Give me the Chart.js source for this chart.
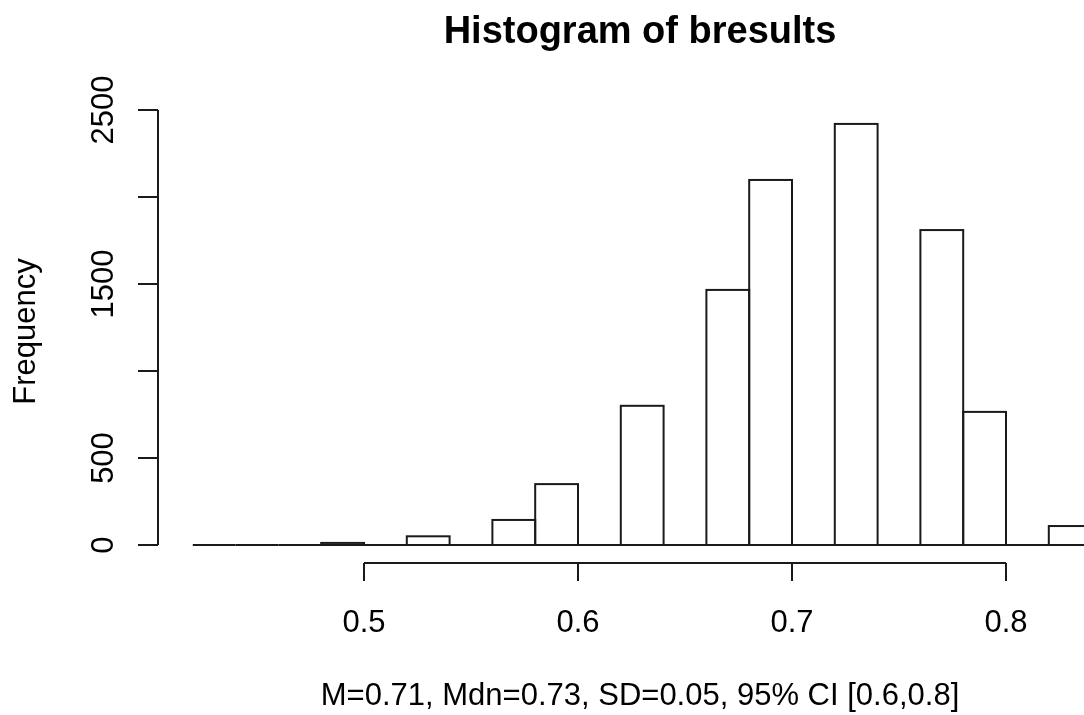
<!DOCTYPE html>
<html>
<head>
<meta charset="utf-8">
<script src="https://cdn.jsdelivr.net/npm/chart.js@4.4.0/dist/chart.umd.min.js"></script>
<style>
    html, body { margin: 0; padding: 0; background: #fff; }
    #wrap { width: 1084px; height: 715px; position: relative; }
</style>
</head>
<body>
<div id="wrap"><canvas id="myChart"></canvas></div>
<script>
// bins of width 0.02 (left edges) and their counts
var binStarts = [0.42, 0.44, 0.46, 0.48, 0.50, 0.52, 0.54, 0.56, 0.58, 0.60, 0.62, 0.64, 0.66, 0.68, 0.70, 0.72, 0.74, 0.76, 0.78, 0.80, 0.82, 0.84];
var counts    = [0,    0,    0,    12,   0,    50,   0,    144,  350,  0,    800,  0,    1466, 2098, 0,    2420, 0,    1810, 765,  0,    109,  0];
var binWidth = 0.02;

var xTicks = [0.5, 0.6, 0.7, 0.8];
var xTickLabels = ['0.5', '0.6', '0.7', '0.8'];
var yTicks = [0, 500, 1000, 1500, 2000, 2500];
var yTickLabels = ['0', '500', '', '1500', '', '2500'];

var titulo = 'Histogram of bresults';
var subtitulo = 'M=0.71, Mdn=0.73, SD=0.05, 95% CI [0.6,0.8]';
var yTitulo = 'Frequency';

var FONT = '"Liberation Sans", Arial, sans-serif';
var LINE = '#1a1a1a';

var datos = binStarts.map(function (b, i) {
    return { x: b + binWidth / 2, y: counts[i] };
});

// contorno de las barras, como en R (incluye barras en cero)
var contornoBarras = {
    id: 'contornoBarras',
    afterDatasetsDraw: function (chart) {
        var ctx = chart.ctx;
        var meta = chart.getDatasetMeta(0);
        ctx.save();
        ctx.strokeStyle = LINE;
        ctx.lineWidth = 2;
        meta.data.forEach(function (el) {
            var p = el.getProps(['x', 'y', 'base', 'width'], true);
            ctx.strokeRect(p.x - p.width / 2, p.y, p.width, p.base - p.y);
        });
        ctx.restore();
    }
};

// ejes y textos estilo R
var ejes = {
    id: 'ejes',
    afterDraw: function (chart) {
        var ctx = chart.ctx;
        var area = chart.chartArea;
        var sx = chart.scales.x;
        var sy = chart.scales.y;
        ctx.save();
        ctx.strokeStyle = LINE;
        ctx.fillStyle = '#000';
        ctx.lineWidth = 2;

        // eje x
        var yb = area.bottom;
        ctx.beginPath();
        ctx.moveTo(sx.getPixelForValue(xTicks[0]), yb);
        ctx.lineTo(sx.getPixelForValue(xTicks[xTicks.length - 1]), yb);
        xTicks.forEach(function (t) {
            var px = sx.getPixelForValue(t);
            ctx.moveTo(px, yb);
            ctx.lineTo(px, yb + 18);
        });
        ctx.stroke();
        ctx.font = '31px ' + FONT;
        ctx.textAlign = 'center';
        ctx.textBaseline = 'alphabetic';
        xTicks.forEach(function (t, i) {
            ctx.fillText(xTickLabels[i], sx.getPixelForValue(t), 632);
        });

        // eje y
        var xl = area.left;
        ctx.beginPath();
        ctx.moveTo(xl, sy.getPixelForValue(yTicks[0]));
        ctx.lineTo(xl, sy.getPixelForValue(yTicks[yTicks.length - 1]));
        yTicks.forEach(function (t) {
            var py = sy.getPixelForValue(t);
            ctx.moveTo(xl, py);
            ctx.lineTo(xl - 20, py);
        });
        ctx.stroke();
        yTicks.forEach(function (t, i) {
            if (!yTickLabels[i]) return;
            ctx.save();
            ctx.translate(113, sy.getPixelForValue(t));
            ctx.rotate(-Math.PI / 2);
            ctx.fillText(yTickLabels[i], 0, 0);
            ctx.restore();
        });

        // titulo eje y
        ctx.save();
        ctx.translate(35, (area.top + area.bottom) / 2);
        ctx.rotate(-Math.PI / 2);
        ctx.fillText(yTitulo, 0, 0);
        ctx.restore();

        // titulo y subtitulo
        ctx.fillText(subtitulo, 640, 705);
        ctx.font = 'bold 38px ' + FONT;
        ctx.fillText(titulo, 640, 43);
        ctx.restore();
    }
};

var ctx = document.getElementById('myChart');
var myChart = new Chart(ctx, {
    type: 'bar',
    data: {
        datasets: [{
            label: 'bresults',
            data: datos,
            backgroundColor: '#ffffff',
            borderWidth: 0,
            barPercentage: 1,
            categoryPercentage: 1
        }]
    },
    plugins: [contornoBarras, ejes],
    options: {
        responsive: true,
        maintainAspectRatio: false,
        animation: false,
        devicePixelRatio: 1,
        layout: {
            padding: { left: 158, right: 0, top: 100, bottom: 152 }
        },
        plugins: {
            legend: { display: false },
            tooltip: { enabled: false },
            title: { display: false }
        },
        scales: {
            x: {
                type: 'linear',
                display: false,
                offset: false,
                min: 0.40374,
                max: 0.83645
            },
            y: {
                type: 'linear',
                display: false,
                min: -103.4,
                max: 2557.5
            }
        }
    }
});
</script>
</body>
</html>
